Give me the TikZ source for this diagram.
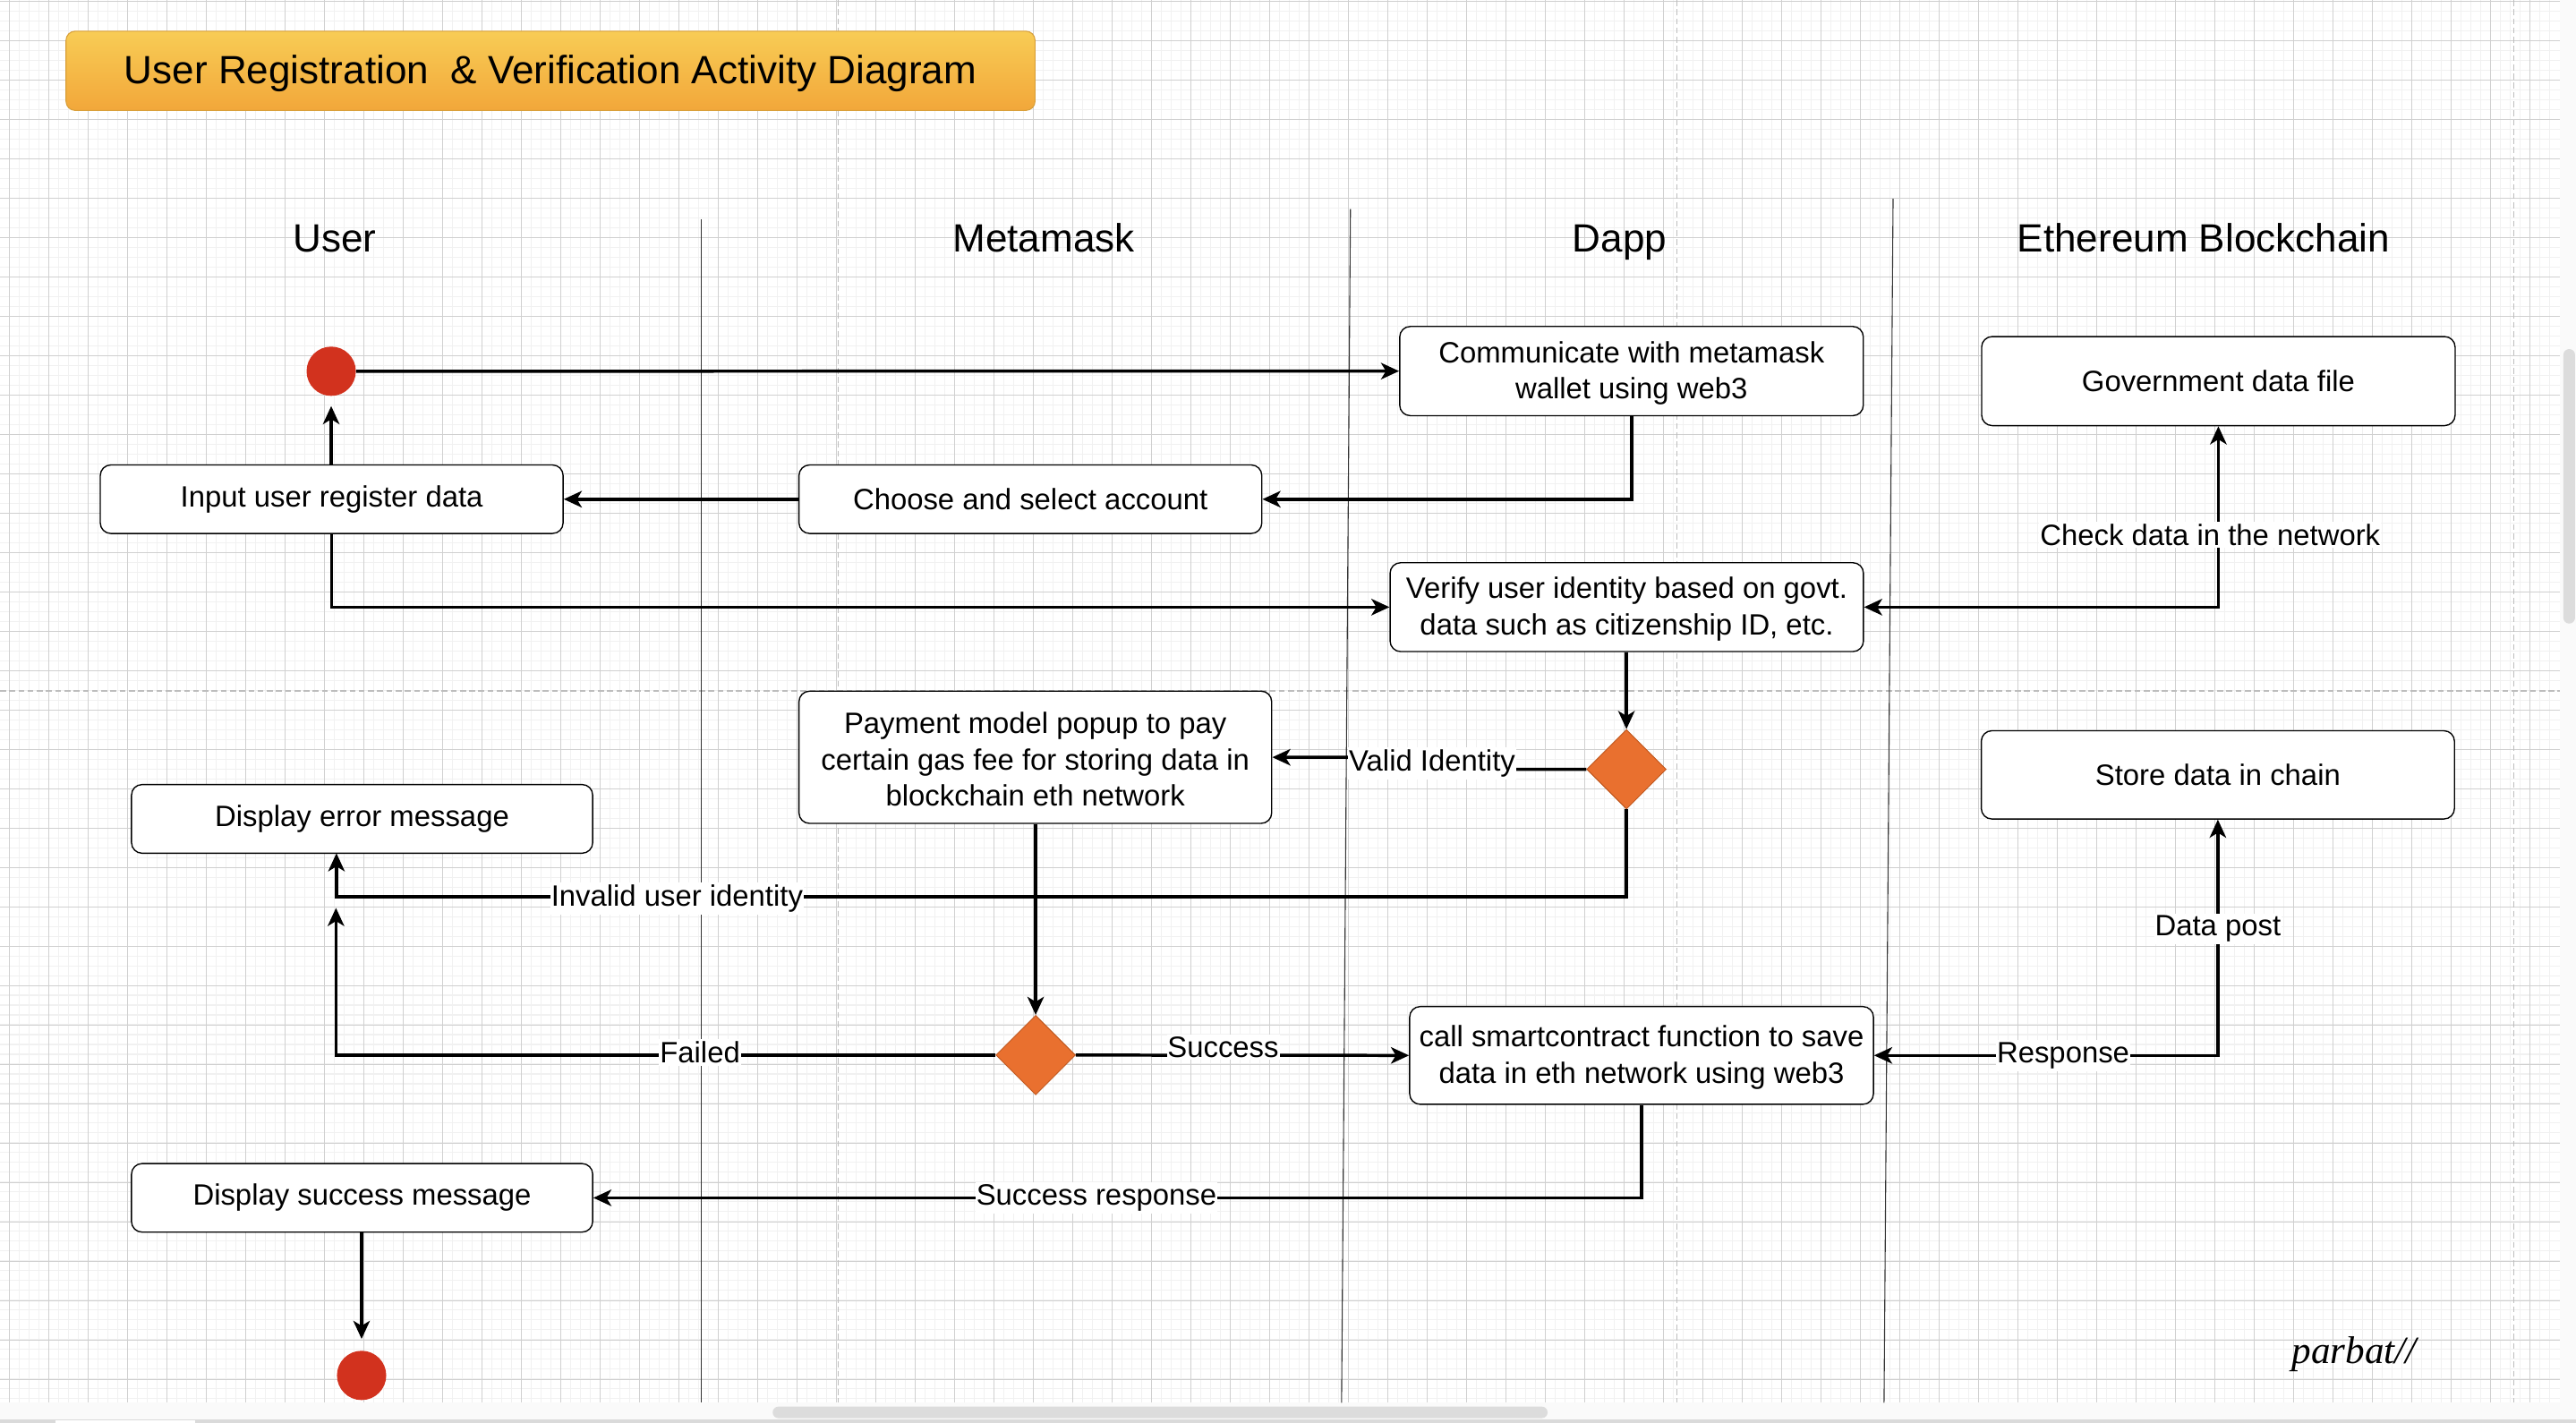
\documentclass[tikz,border=0pt]{standalone}
\usepackage{fontspec}
\setmainfont{Liberation Sans}
\newfontfamily\sigfont{Liberation Serif}
\usetikzlibrary{arrows.meta,shapes.geometric,calc}
\definecolor{gridmajor}{HTML}{D0D0D0}
\definecolor{gridminor}{HTML}{F1F1F1}
\definecolor{pagedash}{HTML}{BDBDBD}
\definecolor{titletop}{HTML}{F8CC55}
\definecolor{titlebot}{HTML}{F2A73A}
\definecolor{titleedge}{HTML}{D9A03A}
\definecolor{decfill}{HTML}{E9702F}
\definecolor{decedge}{HTML}{C0581F}
\definecolor{dotred}{HTML}{D2321E}
\definecolor{lanecol}{HTML}{333333}
\definecolor{uistrip}{HTML}{FAFAFA}
\definecolor{uithumb}{HTML}{DCDCDC}
\begin{document}
\begin{tikzpicture}[x=1pt,y=-1pt,
  box/.style={draw=black, line width=0.75pt, fill=white, rounded corners=6.4pt, align=center, inner sep=2pt, font=\fontsize{17.9}{22}\selectfont},
  dec/.style={diamond, aspect=1, minimum width=48.4pt, minimum height=48.4pt, inner sep=0pt, fill=decfill, draw=decedge, line width=0.5pt},
  dot/.style={circle, minimum size=30pt, inner sep=0pt, fill=dotred, draw=none},
  arr/.style={line width=1.9pt, -{Stealth[length=11pt,width=10pt,inset=3pt]}},
  arrboth/.style={line width=1.9pt, {Stealth[length=11pt,width=10pt,inset=3pt]}-{Stealth[length=11pt,width=10pt,inset=3pt]}},
  lbl/.style={fill=white, inner xsep=0.5pt, inner ysep=1.5pt, font=\fontsize{17.9}{22}\selectfont},
  hdr/.style={anchor=base, font=\fontsize{24}{29}\selectfont},
  lane/.style={draw=lanecol, line width=0.6pt},
  minorline/.style={draw=gridminor, line width=0.55pt},
  majorline/.style={draw=gridmajor, line width=0.45pt},
  pageline/.style={draw=pagedash, line width=0.6pt, dash pattern=on 3.6pt off 2pt},
]
\useasboundingbox (0,0) rectangle (1568,866);
% background and grid
\fill[white] (0,0) rectangle (1568,866);
\foreach \i in {-1,...,258} { \draw[minorline] ({5.6+5.9925*\i},0) -- ({5.6+5.9925*\i},854); }
\foreach \i in {0,...,142} { \draw[minorline] (0,{0.6+5.9925*\i}) -- (1558,{0.6+5.9925*\i}); }
\foreach \i in {0,...,64} { \draw[majorline] ({5.6+23.97*\i},0) -- ({5.6+23.97*\i},854); }
\foreach \i in {0,...,35} { \draw[majorline] (0,{0.6+23.97*\i}) -- (1558,{0.6+23.97*\i}); }
\draw[pageline] (510.3,0) -- (510.3,854);
\draw[pageline] (1020.5,0) -- (1020.5,854);
\draw[pageline] (1530.3,0) -- (1530.3,854);
\draw[pageline] (0,420.6) -- (1558,420.6);
% editor chrome
\fill[uistrip] (1558,0) rectangle (1568,854);
\fill[uithumb, rounded corners=3.5pt] (1560.3,212.5) rectangle (1567.4,379.6);
\fill[uistrip] (0,854) rectangle (1568,864);
\fill[uithumb, rounded corners=3.5pt] (470.3,856.3) rectangle (942,863.3);
\fill[gridmajor!80] (0,864) rectangle (1568,866);
\fill[white] (34,864.8) rectangle (119,866);
% lanes
\draw[lane] (426.7,133.4) -- (426.7,854);
\draw[lane] (822,127.3) -- (816.6,854);
\draw[lane] (1152.3,121) -- (1146.8,854);
% title and headers
\node[draw=titleedge, line width=0.6pt, rounded corners=5.5pt, top color=titletop, bottom color=titlebot,
      minimum width=589.8pt, minimum height=48.2pt, text height=16.2pt, text depth=0pt,
      font=\fontsize{24}{29}\selectfont] (title) at (335.1,43.1) {User Registration\ \ \& Verification Activity Diagram};
\node[hdr] (hUser) at (203.8,153.4) {User};
\node[hdr] (hMeta) at (635.3,153.4) {Metamask};
\node[hdr] (hDapp) at (985.9,153.4) {Dapp};
\node[hdr] (hEth) at (1341.3,153.4) {Ethereum Blockchain};
% nodes
\node[dot] (start) at (201.6,226) {};
\node[box, minimum width=282.2pt, minimum height=54.3pt] (comm) at (993.1,225.9) {\strut Communicate with metamask\\wallet using web3};
\node[box, minimum width=288.2pt, minimum height=54.2pt] (gov) at (1350.3,232) {Government data file};
\node[box, minimum width=281.7pt, minimum height=41.7pt] (input) at (201.9,303.9) {Input user register data};
\node[box, minimum width=281.7pt, minimum height=41.7pt] (choose) at (627.2,303.9) {Choose and select account};
\node[box, minimum width=288.1pt, minimum height=54.1pt] (verify) at (990.2,369.6) {\strut Verify user identity based on govt.\\data such as citizenship ID, etc.};
\node[box, minimum width=287.7pt, minimum height=80.5pt] (pay) at (630.2,461) {\strut Payment model popup to pay\\certain gas fee for storing data in\\blockchain eth network};
\node[dec] (d1) at (990,468.3) {};
\node[box, minimum width=288pt, minimum height=53.7pt] (store) at (1350,471.7) {Store data in chain};
\node[box, minimum width=280.7pt, minimum height=41.8pt] (err) at (220.4,498.5) {Display error message};
\node[dec] (d2) at (630.4,642.3) {};
\node[box, minimum width=282.3pt, minimum height=59.5pt] (call) at (999.2,642.5) {\strut call smartcontract function to save\\data in eth network using web3};
\node[box, minimum width=280.7pt, minimum height=41.7pt] (succ) at (220.4,729.2) {Display success message};
\node[dot] (endc) at (220.1,837.3) {};
\node[anchor=base, font=\sigfont\itshape\fontsize{23.5}{28}\selectfont] (sig) at (1433,829.8) {parbat//};
% helper coordinates
\coordinate (errin) at (204.8,519.4);
\coordinate (invR) at (990,546);
\coordinate (failtip) at (204.5,552.7);
% connectors
\draw[arr] (start) -- (comm);
\draw[arr] (comm.south) |- (choose.east);
\draw[arr] (choose) -- (input);
\draw[arr] (start.south |- input.north) -- ([yshift=-6pt]start.south);
\draw[arr] (input.south) |- (verify.west);
\draw[arrboth] (verify.east) -| node[lbl, pos=0.70, xshift=-5pt] {Check data in the network} (gov.south);
\draw[arr] (d1.north |- verify.south) -- (d1.north);
\draw[arr] (d1.west) -- ++(-43.5,0) -- node[lbl] {Valid Identity} ([xshift=47pt]pay.east) -- (pay.east);
\draw[arr] (d1.south) -- (invR) -| node[lbl, pos=0.368, yshift=-1pt] {Invalid user identity} (errin);
\draw[arr] (pay.south -| d2.north) -- (d2.north);
\draw[arr] (d2.west) -| node[lbl, pos=0.224, yshift=1.5pt] {Failed} (failtip);
\draw[arr] (d2.east) -- node[lbl, pos=0.442, yshift=5pt] {Success} (call.west);
\draw[arrboth] (call.east) -| node[lbl, pos=0.275] {Response} node[lbl, pos=0.768] {Data post} (store.south);
\draw[arr] (call.south) |- node[lbl, pos=0.76] {Success response} (succ.east);
\draw[arr] (endc.north |- succ.south) -- ([yshift=7pt]endc.north);
\end{tikzpicture}
\end{document}
